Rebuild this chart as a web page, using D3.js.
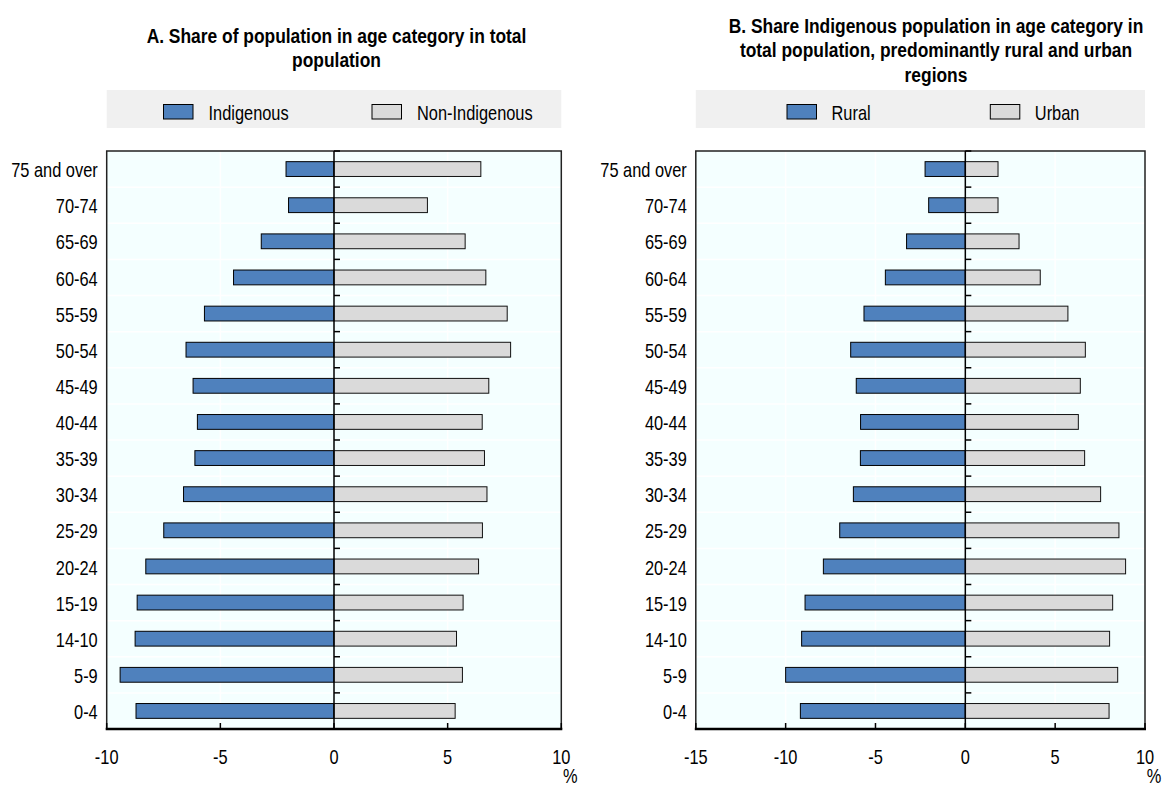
<!DOCTYPE html>
<html>
<head>
<meta charset="utf-8">
<script src="https://cdn.jsdelivr.net/npm/d3@7"></script>
<style>
html,body{margin:0;padding:0;background:#fff;}
svg{display:block;}
text{font-family:'Liberation Sans',Arial,sans-serif;fill:#000;}
</style>
</head>
<body>
<svg id="chart" width="1164" height="789"></svg>
<script>
// ---- Data ----
const categories = ["75 and over","70-74","65-69","60-64","55-59","50-54","45-49","40-44","35-39","30-34","25-29","20-24","15-19","14-10","5-9","0-4"];
const indigenous    = [-2.11,-2.00,-3.20,-4.42,-5.70,-6.51,-6.20,-6.01,-6.12,-6.62,-7.49,-8.28,-8.66,-8.75,-9.41,-8.71];
const nonIndigenous = [6.46,4.11,5.77,6.68,7.62,7.77,6.81,6.52,6.62,6.73,6.53,6.36,5.68,5.39,5.65,5.33];
const rural = [-2.24,-2.04,-3.27,-4.45,-5.64,-6.38,-6.07,-5.83,-5.84,-6.23,-6.99,-7.90,-8.92,-9.11,-10.00,-9.18];
const urban = [1.82,1.82,2.99,4.17,5.71,6.68,6.40,6.29,6.64,7.53,8.55,8.92,8.20,8.03,8.48,8.00];
const ticksA = [-10,-5,0,5,10];
const ticksB = [-15,-10,-5,0,5,10];
const titleA = ["A. Share of population in age category in total","population"];
const titleB = ["B. Share Indigenous population in age category in","total population, predominantly rural and urban","regions"];
const legendA = ["Indigenous","Non-Indigenous"];
const legendB = ["Rural","Urban"];

const BLUE = "#4f81bd", GREY = "#dadada";
const NARROW = 0.82;
const svg = d3.select("#chart");

// narrow text helper (condensed look via horizontal scaling)
function ntext(g, x, y, s, size, anchor, bold, sx){
  return g.append("text")
    .attr("transform", `translate(${x},${y}) scale(${sx || NARROW},1)`)
    .attr("text-anchor", anchor || "start")
    .attr("dominant-baseline","central")
    .style("font-size", size+"px")
    .style("font-weight", bold ? "bold" : "normal")
    .text(s);
}

function panel(cfg){
  const g = svg.append("g");
  const top = 151, bottom = 729;
  const x = d3.scaleLinear().domain(cfg.domain).range([cfg.x0, cfg.x1]);
  const y = d3.scaleBand().domain(categories).range([top, bottom]);

  // title
  cfg.title.forEach((t,i)=> ntext(g, cfg.titleX, cfg.titleY + i*24.5, t, 20, "middle", true, 0.87));

  // legend
  g.append("rect").attr("x",cfg.x0).attr("y",90).attr("width",cfg.x1-cfg.x0).attr("height",38).attr("fill","#f0f0f0");
  cfg.legend.forEach((name,i)=>{
    const lx = cfg.legendX[i];
    g.append("rect").attr("x",lx).attr("y",104.5).attr("width",29.5).attr("height",14.5)
      .attr("fill", i===0?BLUE:GREY).attr("stroke","#000").attr("stroke-width",1);
    ntext(g, lx+cfg.legendGap, 112.5, name, 20, "start");
  });

  // plot background
  g.append("rect").attr("x",cfg.x0).attr("y",top).attr("width",cfg.x1-cfg.x0).attr("height",bottom-top).attr("fill","#f4ffff");
  // grid
  g.selectAll("line.vg").data(cfg.ticks.filter(t=>t!==0 && t!==cfg.domain[0] && t!==cfg.domain[1])).join("line")
    .attr("x1",d=>x(d)).attr("x2",d=>x(d)).attr("y1",top).attr("y2",bottom)
    .attr("stroke","#fff").attr("stroke-width",1.5);
  g.selectAll("line.hg").data(categories.slice(1)).join("line")
    .attr("x1",cfg.x0).attr("x2",cfg.x1).attr("y1",d=>y(d)).attr("y2",d=>y(d))
    .attr("stroke","#fff").attr("stroke-width",1.5);

  // bars
  const bh = y.bandwidth()*0.41;
  g.selectAll("rect.l").data(categories).join("rect")
    .attr("x",(d,i)=>x(cfg.left[i])).attr("width",(d,i)=>x(0)-x(cfg.left[i]))
    .attr("y",d=>y(d)+y.bandwidth()/2-bh/2).attr("height",bh)
    .attr("fill",BLUE).attr("stroke","#000").attr("stroke-width",1);
  g.selectAll("rect.r").data(categories).join("rect")
    .attr("x",x(0)).attr("width",(d,i)=>x(cfg.right[i])-x(0))
    .attr("y",d=>y(d)+y.bandwidth()/2-bh/2).attr("height",bh)
    .attr("fill",GREY).attr("stroke","#111").attr("stroke-width",1);

  // frame
  g.append("rect").attr("x",cfg.x0).attr("y",top).attr("width",cfg.x1-cfg.x0).attr("height",bottom-top)
    .attr("fill","none").attr("stroke","#222").attr("stroke-width",1.5);

  // zero line with minor ticks at band boundaries
  g.append("line").attr("x1",x(0)).attr("x2",x(0)).attr("y1",top).attr("y2",bottom).attr("stroke","#000").attr("stroke-width",1.5);
  const bounds = categories.map(c=>y(c));
  g.selectAll("line.mt").data(bounds).join("line")
    .attr("x1",x(0)).attr("x2",x(0)+6).attr("y1",d=>d).attr("y2",d=>d)
    .attr("stroke","#000").attr("stroke-width",1.5);

  // y labels
  categories.forEach(c=> ntext(g, cfg.x0-9, y(c)+y.bandwidth()/2+1, c, 20, "end"));

  // x axis
  g.selectAll("line.xt").data(cfg.ticks).join("line")
    .attr("x1",d=>x(d)).attr("x2",d=>x(d)).attr("y1",bottom).attr("y2",bottom-6)
    .attr("stroke","#000").attr("stroke-width",1.5);
  g.append("line").attr("x1",cfg.x0-1).attr("x2",cfg.x1+1).attr("y1",bottom).attr("y2",bottom)
    .attr("stroke","#000").attr("stroke-width",2.5);
  cfg.ticks.forEach(t=> ntext(g, x(t), 757, String(t), 20, "middle"));
  ntext(g, cfg.x1+9, 776, "%", 20, "middle");
}

panel({domain:[-10,10], ticks:ticksA, x0:106.7, x1:561.3, left:indigenous, right:nonIndigenous,
  title:titleA, titleX:336.5, titleY:36, legend:legendA, legendX:[163.5,372], legendGap:45});
panel({domain:[-15,10], ticks:ticksB, x0:695.8, x1:1145, left:rural, right:urban,
  title:titleB, titleX:936, titleY:26, legend:legendB, legendX:[787,990.3], legendGap:44.5});
</script>
</body>
</html>
